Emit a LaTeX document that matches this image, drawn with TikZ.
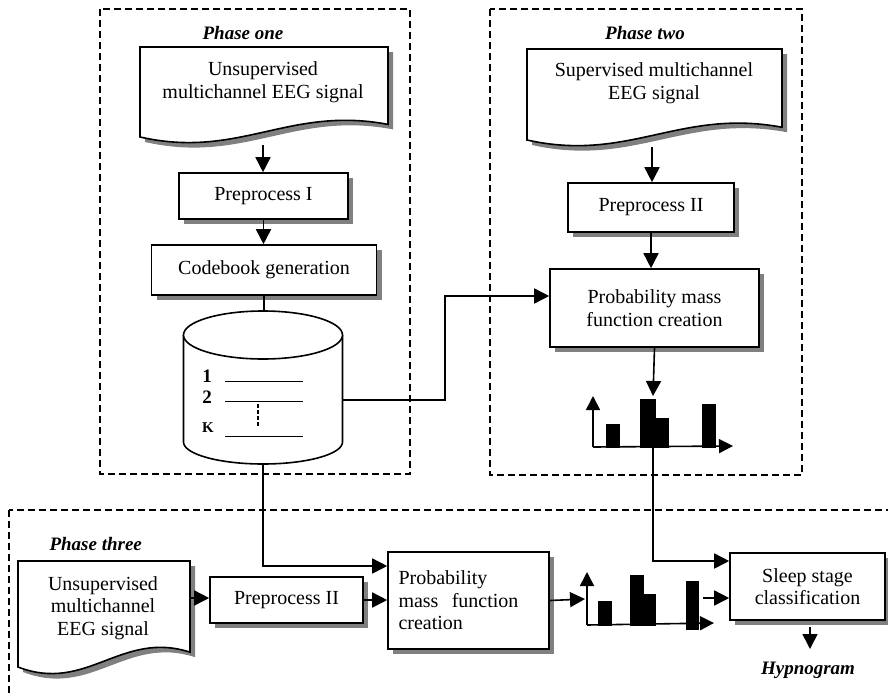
\documentclass[tikz,border=0pt]{standalone}
\usepackage{fontspec}
\setmainfont{Liberation Serif}
\usetikzlibrary{arrows.meta,shadows}
\definecolor{shadowgray}{gray}{0.5}
\tikzset{
  txt/.style={font=\fontsize{20}{22.5}\selectfont, align=center},
  box/.style={txt, draw, line width=1.6pt, fill=white, inner sep=0pt,
    drop shadow={shadow xshift=5pt, shadow yshift=-5pt, fill=shadowgray, opacity=1}},
  conn/.style={line width=1.6pt},
  arr/.style={conn, -{Triangle[length=15pt,width=15pt]}},
  frame/.style={line width=1.4pt, dash pattern=on 7pt off 4pt},
  phase/.style={font=\fontsize{19}{22}\selectfont\bfseries\itshape},
  % document symbol: flat top, wavy bottom; args x1, y1, x2, y2
  docpath/.style n args={4}{insert path={
    (#1,#2) -- (#3,#2) -- (#3,{#4-0.14*(#4-#2)})
    .. controls ({#1+0.6*(#3-#1)},{#4-0.35*(#4-#2)}) and ({#1+0.4*(#3-#1)},{#4+0.25*(#4-#2)})
    .. (#1,#4) -- cycle}},
  docline/.style={line width=1.6pt, fill=white},
  docshadow/.style={fill=shadowgray, shift={(5,5)}},
  bar/.style={fill=black},
  axis/.style={line width=1.6pt, -{Triangle[length=14pt,width=14pt]}},
  keynum/.style={font=\fontsize{19}{22}\selectfont\bfseries},
}
\begin{document}
\begin{tikzpicture}[x=1pt,y=-1pt]
\useasboundingbox (0,0) rectangle (888,696);

% phase frames
\draw[frame] (100,9) rectangle (410,474);
\draw[frame] (490,9) rectangle (802,475);
\begin{scope}
  \clip (0,0) rectangle (888,696);
  \draw[frame] (9,510) rectangle (900,710);
\end{scope}

\node[phase] (ph1) at (243,33) {Phase one};
\node[phase] (ph2) at (645,33) {Phase two};
\node[phase, anchor=west] (ph3) at (46,544) {Phase three};

% ---------- phase one ----------
\fill[docshadow, docpath={140}{47}{388}{137}];
\draw[docline, docpath={140}{47}{388}{137}];
\node[txt] (d1) at (263,82) {Unsupervised\\multichannel EEG signal};
\coordinate (d1b) at (263,145);

\node[box, minimum width=169pt, minimum height=46pt] (pre1) at (263.5,196) {Preprocess I};
\node[box, minimum width=225pt, minimum height=50pt] (code) at (264,270) {Codebook generation};

% codebook store
\node[minimum width=159pt, minimum height=153pt, inner sep=0pt] (cyl) at (263,387.5) {};
\draw[line width=1.6pt, fill=white] (183.5,335) -- (183.5,442)
  arc[start angle=180, end angle=0, x radius=79.5, y radius=22] -- (342.5,335);
\draw[line width=1.6pt, fill=white] (263,335) ellipse [x radius=79.5, y radius=24];
\node[keynum] (k1) at (207,376) {1};
\node[keynum] (k2) at (207,397) {2};
\node[keynum, font=\fontsize{15}{18}\selectfont\bfseries] (kk) at (208,428) {K};
\draw[line width=0.8pt] (225,381) -- (303,381);
\draw[line width=0.8pt] (225,401) -- (303,401);
\draw[line width=0.8pt] (225,436) -- (303,436);
\draw[line width=2.8pt, dash pattern=on 3.5pt off 2.5pt] (258,404) -- (258,426);
\coordinate (cylR) at (342.5,400);

\draw[arr] (d1b) -- (d1b |- pre1.north);
\draw[arr] (pre1.south) -- (pre1.south |- code.north);
\draw[conn] (code.south) -- (code.south |- 0,311);

% ---------- phase two ----------
\fill[docshadow, docpath={527}{49}{782}{140}];
\draw[docline, docpath={527}{49}{782}{140}];
\node[txt] (d2) at (654,83) {Supervised multichannel\\EEG signal};
\coordinate (d2b) at (652,147);

\node[box, minimum width=166pt, minimum height=49pt] (pre2) at (651,207.5) {Preprocess II};
\node[box, minimum width=209pt, minimum height=78pt] (prob2) at (654.5,308) {Probability mass\\function creation};

\draw[arr] (d2b) -- (d2b |- pre2.north);
\draw[arr] (pre2.south) -- (pre2.south |- prob2.north);

\coordinate (j1) at (445,296);
\draw[arr] (cylR) -| (j1) -- (j1 -| prob2.west);

% pmf of phase two
\coordinate (h2in) at (653,396);
\coordinate (h2o) at (593,447);
\fill[bar] (606,424) rectangle (620,448);
\fill[bar] (640,399) rectangle (656,448);
\fill[bar] (656,418) rectangle (669,448);
\fill[bar] (702,404) rectangle (716,448);
\draw[axis] (h2o) -- (593,396);
\draw[axis] (h2o) -- (733,446);
\draw[arr] (prob2.south) -- (h2in);

% ---------- phase three ----------
\fill[docshadow, docpath={18}{561}{190}{667}];
\draw[docline, docpath={18}{561}{190}{667}];
\node[txt] (d3) at (103,608) {Unsupervised\\multichannel\\EEG signal};
\coordinate (d3r) at (191,598);

\node[box, minimum width=153pt, minimum height=46pt] (pre3) at (286.5,600) {Preprocess II};
\node[box, minimum width=161pt, minimum height=97pt, align=left, text width=140pt] (prob3) at (468.5,600.5) {Probability\\mass~~function\\creation};
\node[box, minimum width=155pt, minimum height=67pt] (sleep) at (807.5,586.5) {Sleep stage\\classification};

% pmf of phase three
\coordinate (h3in) at (585,599);
\coordinate (h3out) at (703,598);
\coordinate (h3o) at (587,625);
\fill[bar] (598,601) rectangle (612,626);
\fill[bar] (630,575) rectangle (644,626);
\fill[bar] (644,594) rectangle (656,626);
\fill[bar] (686,581) rectangle (699,630);
\draw[axis] (h3o) -- (587,572);
\draw[axis] (h3o) -- (714,623);

\draw[arr] (d3r) -- (d3r -| pre3.west);
\draw[arr] (pre3.east) -- (pre3.east -| prob3.west);
\draw[arr] (prob3.east) -- (h3in);
\draw[arr] (h3out) -- (h3out -| sleep.west);

% codebook and pmf feeds
\coordinate (j2) at (263,566);
\draw[arr] (cyl.south) -- (j2) -- (j2 -| prob3.west);
\coordinate (j3) at (653,561);
\draw[arr] (653,448) -- (j3) -- (j3 -| sleep.west);

% output
\node[phase] (hyp) at (808,670) {Hypnogram};
\coordinate (hypin) at (810,649);
\draw[arr, shorten <=6pt] (sleep.south -| hypin) -- (hypin);
\end{tikzpicture}
\end{document}
